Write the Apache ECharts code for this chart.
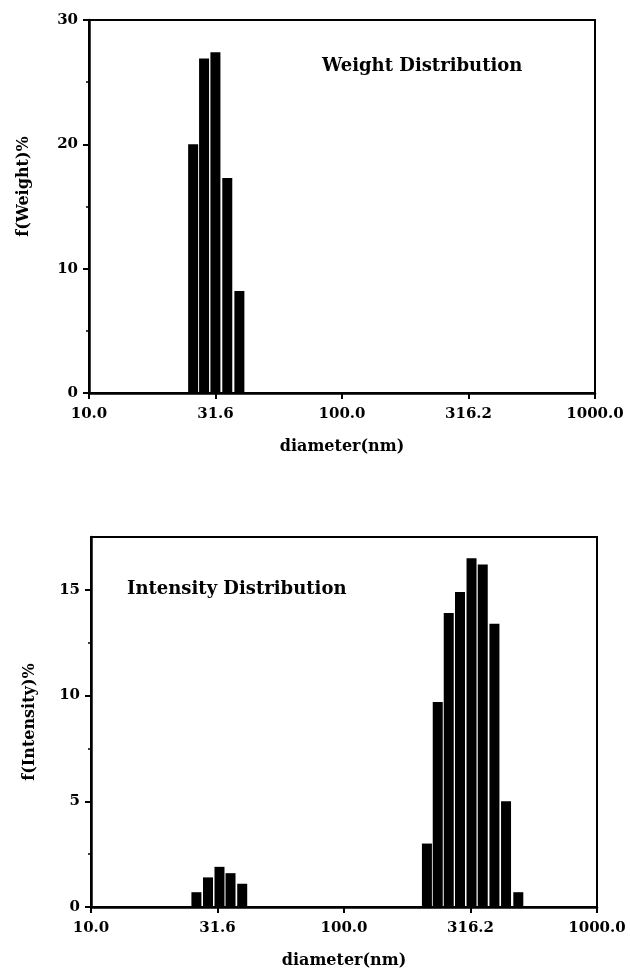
<!DOCTYPE html>
<html>
<head>
<meta charset="utf-8">
<script src="https://cdn.jsdelivr.net/npm/echarts@6/dist/echarts.min.js"></script>
<style>
	html, body { margin: 0; padding: 0; background: #fff; }
	#chart { width: 630px; height: 978px; }
</style>
</head>
<body>
<div id="chart"></div>
<script>
// x tick labels are the powers 10^1 .. 10^3 in half-decade steps
const xTicks = ["10.0", "31.6", "100.0", "316.2", "1000.0"];

// weight distribution (top)
const weightDiam = [25.8, 28.5, 31.6, 35.2, 39.3];
const weightVal = [20.0, 26.9, 27.4, 17.3, 8.2];

// intensity distribution (bottom)
const intensityDiam = [26.1, 29.0, 32.2, 35.6, 39.6, 212.7, 234.7, 259.4, 287.4, 319.2, 353.5, 393.2, 437.0, 488.6];
const intensityVal = [0.7, 1.4, 1.9, 1.6, 1.1, 3.0, 9.7, 13.9, 14.9, 16.5, 16.2, 13.4, 5.0, 0.7];

const font = "DejaVu Serif";

function toData(diam, vals) {
	return diam.map((d, i) => [Math.log10(d), vals[i]]);
}

function renderBar(params, api) {
	let top = api.coord([api.value(0), api.value(1)]);
	let base = api.coord([api.value(0), 0]);
	let w = 10;
	return {
		type: "rect",
		shape: { x: top[0] - w / 2, y: top[1], width: w, height: base[1] - top[1] },
		style: { fill: "#000" },
	};
}

function xAxisOpt(gridIndex) {
	return {
		gridIndex: gridIndex,
		type: "value",
		min: 1,
		max: 3,
		interval: 0.5,
		name: "diameter(nm)",
		nameLocation: "middle",
		nameGap: 46,
		nameTextStyle: { fontFamily: font, fontWeight: "bold", fontSize: 16, color: "#000" },
		axisLine: { show: true, onZero: false, lineStyle: { color: "#000", width: 2.5 } },
		axisTick: { show: true, length: 6, lineStyle: { color: "#000", width: 2 } },
		axisLabel: {
			margin: 14,
			fontFamily: font,
			fontWeight: "bold",
			fontSize: 15,
			color: "#000",
			formatter: (v) => xTicks[Math.round((v - 1) * 2)],
		},
		splitLine: { show: false },
	};
}

let myChart = echarts.init(document.getElementById("chart"));
let option = {
	animation: false,
	backgroundColor: "#fff",
	title: [
		{
			text: "Weight Distribution",
			left: 322,
			top: 57,
			padding: 0,
			textStyle: { fontFamily: font, fontWeight: "bold", fontSize: 18, color: "#000" },
		},
		{
			text: "Intensity Distribution",
			left: 127,
			top: 580,
			padding: 0,
			textStyle: { fontFamily: font, fontWeight: "bold", fontSize: 18, color: "#000" },
		},
	],
	grid: [
		{ left: 89, top: 20, right: 35, height: 373, show: true, borderColor: "#000", borderWidth: 2, containLabel: false },
		{ left: 91, top: 537, right: 33, height: 370, show: true, borderColor: "#000", borderWidth: 2, containLabel: false },
	],
	xAxis: [xAxisOpt(0), xAxisOpt(1)],
	yAxis: [
		{
			gridIndex: 0,
			type: "value",
			min: 0,
			max: 30,
			interval: 10,
			name: "f(Weight)%",
			nameLocation: "middle",
			nameGap: 57,
			nameTextStyle: { fontFamily: font, fontWeight: "bold", fontSize: 16, color: "#000", padding: [0, 0, 0, 40] },
			axisLine: { show: true, lineStyle: { color: "#000", width: 2.5 } },
			axisTick: { show: true, length: 6, lineStyle: { color: "#000", width: 2 } },
			minorTick: { show: true, splitNumber: 2, length: 3, lineStyle: { color: "#000", width: 1.5 } },
			axisLabel: { margin: 11, fontFamily: font, fontWeight: "bold", fontSize: 15, color: "#000" },
			splitLine: { show: false },
		},
		{
			gridIndex: 1,
			type: "value",
			min: 0,
			max: 17.5,
			interval: 5,
			name: "f(Intensity)%",
			nameLocation: "middle",
			nameGap: 53,
			nameTextStyle: { fontFamily: font, fontWeight: "bold", fontSize: 16, color: "#000" },
			axisLine: { show: true, lineStyle: { color: "#000", width: 2.5 } },
			axisTick: { show: true, length: 6, customValues: [0, 5, 10, 15], lineStyle: { color: "#000", width: 2 } },
			minorTick: { show: true, splitNumber: 2, length: 3, lineStyle: { color: "#000", width: 1.5 } },
			axisLabel: { margin: 11, customValues: [0, 5, 10, 15], fontFamily: font, fontWeight: "bold", fontSize: 15, color: "#000" },
			splitLine: { show: false },
		},
	],
	series: [
		{
			type: "custom",
			xAxisIndex: 0,
			yAxisIndex: 0,
			renderItem: renderBar,
			data: toData(weightDiam, weightVal),
			z: 1,
		},
		{
			type: "custom",
			xAxisIndex: 1,
			yAxisIndex: 1,
			renderItem: renderBar,
			data: toData(intensityDiam, intensityVal),
			z: 1,
		},
	],
};
myChart.setOption(option);
</script>
</body>
</html>
